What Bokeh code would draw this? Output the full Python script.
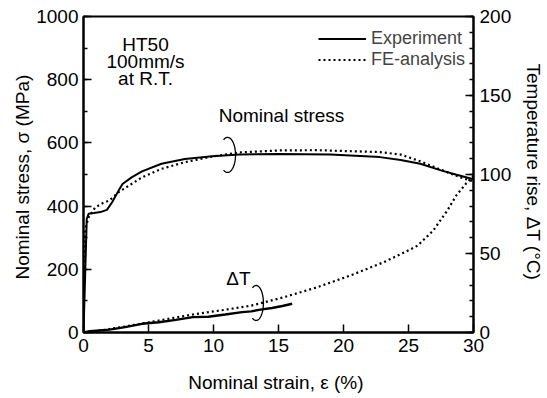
import numpy as np
from bokeh.plotting import figure
from bokeh.models import (Range1d, LinearAxis, SingleIntervalTicker, Label,
                          Legend, LegendItem)
from bokeh.embed import file_html
from bokeh.resources import INLINE

# ---- data ----
exp_stress_strain = [0, 0.25, 0.4, 0.8, 1.3, 1.8, 2.2, 2.7, 3.0, 3.7, 4.5, 6.0, 7.8,
                     9.9, 12.0, 15.0, 19.0, 22.8, 24.4, 25.9, 27.5, 28.7, 30.0]
exp_stress = [0, 360, 376, 378, 381, 388, 412, 449, 470, 491, 510, 534, 549,
              558, 563, 565, 563, 555, 546, 534, 513, 499, 485]

fe_stress_strain = [0, 0.1, 0.15, 0.4, 0.9, 1.5, 2.0, 2.7, 3.5, 4.5, 6.0, 7.8, 9.9,
                    12.0, 15.0, 18.0, 19.5, 22.8, 24.4, 25.9, 27.5, 29.0, 30.0]
fe_stress = [0, 300, 330, 365, 396, 410, 418, 444, 465, 491, 518, 539, 557,
             570, 576, 577, 575, 571, 563, 542, 515, 491, 478]

exp_dT_strain = [0, 0.5, 2.0, 3.2, 4.5, 5.8, 7.1, 8.4, 9.6, 10.9, 12.2, 12.9, 13.6,
                 14.5, 15.3, 16.05]
exp_dT = [0, 0.8, 1.8, 3.4, 5.5, 6.5, 8.0, 9.7, 10.0, 11.4, 12.9, 13.4, 14.5,
          15.5, 16.8, 18.2]

fe_dT_strain = [0, 1.5, 3.2, 5.8, 8.4, 10.9, 12.9, 15.4, 18.0, 20.5, 23.1, 25.0,
                25.7, 26.9, 27.97, 28.7, 29.5, 30.0]
fe_dT = [0, 1.5, 3.8, 7.6, 11.4, 14.4, 17.0, 22.3, 28.7, 36.0, 44.5, 52.0,
         55.0, 64.5, 77.0, 87.0, 95.0, 99.0]

x_ticks_interval = 5
stress_tick_interval = 200
dT_tick_interval = 50

FONT = "Liberation Sans"
FS = "19px"

p = figure(width=547, height=398, output_backend="svg", toolbar_location=None,
           x_range=Range1d(0, 30), y_range=Range1d(0, 1000),
           min_border_left=83, min_border_right=74, min_border_top=16,
           min_border_bottom=66)
p.extra_y_ranges = {"dT": Range1d(0, 200)}
p.xgrid.visible = False
p.ygrid.visible = False
p.outline_line_color = "black"
p.outline_line_width = 2
p.background_fill_color = "white"
p.border_fill_color = "white"

def style_axis(ax):
    ax.axis_line_width = 2
    ax.axis_line_color = "black"
    ax.major_tick_in = 8
    ax.major_tick_out = 0
    ax.minor_tick_in = 4
    ax.minor_tick_out = 0
    ax.major_tick_line_width = 1.5
    ax.minor_tick_line_width = 1.5
    ax.major_label_text_font = FONT
    ax.major_label_text_font_size = FS
    ax.major_label_text_color = "black"
    ax.axis_label_text_font = FONT
    ax.axis_label_text_font_size = FS
    ax.axis_label_text_font_style = "normal"
    ax.axis_label_text_color = "black"

xa = p.xaxis[0]
xa.ticker = SingleIntervalTicker(interval=x_ticks_interval, num_minor_ticks=0)
xa.axis_label = "Nominal strain, ε  (%)"
style_axis(xa)
xa.major_label_standoff = 6
xa.axis_label_standoff = 17

ya = p.yaxis[0]
ya.ticker = SingleIntervalTicker(interval=stress_tick_interval, num_minor_ticks=2)
ya.axis_label = "Nominal stress, σ  (MPa)"
style_axis(ya)
ya.major_label_standoff = 5
ya.axis_label_standoff = 0

ra = LinearAxis(y_range_name="dT",
                ticker=SingleIntervalTicker(interval=dT_tick_interval, num_minor_ticks=5),
                axis_label="Temperature rise, ΔT  (°C)")
style_axis(ra)
ra.major_label_standoff = 6
ra.axis_label_standoff = 9
p.add_layout(ra, "right")

r_exp = p.line(exp_stress_strain, exp_stress, line_color="black", line_width=2)
r_fe = p.line(fe_stress_strain, fe_stress, line_color="black", line_width=2.2,
              line_dash="2 3")
p.line(exp_dT_strain, exp_dT, y_range_name="dT", line_color="black", line_width=2.4)
p.line(fe_dT_strain, fe_dT, y_range_name="dT", line_color="black", line_width=2.2,
       line_dash="2 3")

# loop markers (annotation shapes)
t = np.linspace(np.deg2rad(120), np.deg2rad(-120), 60)
for cx, cy, a, b in [(11.08, 562, 0.615, 55.4), (13.28, 93.4, 0.56, 55.4)]:
    p.line(cx + a * np.cos(t), cy + b * np.sin(t), line_color="black", line_width=1.3)

def lab(x, y, s):
    p.add_layout(Label(x=x, y=y, text=s, text_align="center", text_baseline="middle",
                       text_font=FONT, text_font_size=FS, text_color="black"))

lab(4.77, 911, "HT50")
lab(4.77, 858, "100mm/s")
lab(4.77, 803, "at R.T.")
lab(15.23, 687, "Nominal stress")
lab(11.92, 171, "ΔT")

legend = Legend(items=[LegendItem(label="Experiment", renderers=[r_exp]),
                       LegendItem(label="FE-analysis", renderers=[r_fe])],
                location=(235, 262), padding=0, margin=0, spacing=0,
                glyph_width=48, glyph_height=17, label_height=17,
                label_standoff=5, label_text_font=FONT, label_text_font_size="18px",
                border_line_color=None, background_fill_alpha=0)
p.add_layout(legend, "center")

open("out.html", "w").write(file_html(p, INLINE))
